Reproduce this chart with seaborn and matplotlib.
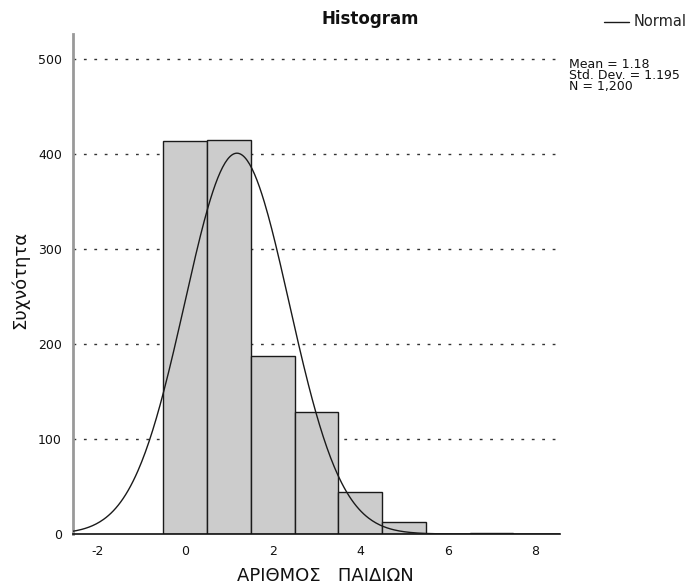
import numpy as np
import pandas as pd
import matplotlib
matplotlib.use("Agg")
import matplotlib.pyplot as plt
import seaborn as sns

# Number of children per respondent and the frequency of each value
children = [0, 1, 2, 3, 4, 5, 6, 7]
counts = [413, 414, 187, 128, 44, 13, 0, 1]
mean_val = 1.18
std_val = 1.195
n_total = 1200

sns.set_theme(style="white")
plt.rcParams["font.family"] = ["DejaVu Sans"]
plt.rcParams["axes.unicode_minus"] = False

df = pd.DataFrame({"children": children, "count": counts})

W, H = 692, 585
fig = plt.figure(figsize=(W / 100, H / 100), dpi=100)
# plot area in pixels: x 73..560, y 34..534
ax = fig.add_axes([73 / W, 1 - 534 / H, (560 - 73) / W, 500 / H])

# dotted reference lines behind the bars
for yv in [100, 200, 300, 400, 500]:
    ax.axhline(yv, xmin=0, xmax=0.99, color="#333333", linestyle=(0, (2, 5.5)),
               linewidth=1.0, zorder=0)

sns.histplot(data=df, x="children", weights="count", binwidth=1,
             binrange=(-0.5, 7.5), ax=ax,
             color="#cccccc", edgecolor="#1a1a1a", linewidth=1.0, alpha=1.0,
             zorder=2)

# fitted normal curve scaled to counts (bin width 1)
xs = np.linspace(-2.6, 8.6, 400)
pdf = np.exp(-0.5 * ((xs - mean_val) / std_val) ** 2) / (std_val * np.sqrt(2 * np.pi))
sns.lineplot(x=xs, y=n_total * 1.0 * pdf, ax=ax, color="#1a1a1a", linewidth=1.0,
             zorder=3)

ax.set_xlim(-2.57, 8.57)
ax.set_ylim(0, 526)
ax.set_xticks([-2, 0, 2, 4, 6, 8])
ax.set_yticks([0, 100, 200, 300, 400, 500])
ax.tick_params(axis="both", labelsize=9, colors="#111111", direction="out",
               length=7, width=1.3, pad=1)
ax.tick_params(axis="x", length=6, pad=2)

for s in ["top", "right"]:
    ax.spines[s].set_visible(False)
ax.spines["left"].set_color("#999999")
ax.spines["left"].set_linewidth(2.0)
ax.spines["bottom"].set_color("#111111")
ax.spines["bottom"].set_linewidth(1.2)

ax.set_xlabel("ΑΡΙΘΜΟΣ   ΠΑΙΔΙΩΝ", fontsize=13, color="#111111", va="center")
ax.xaxis.set_label_coords((325 - 73) / 487, (534 - 576) / 500)
ax.set_ylabel("Συχνότητα", fontsize=13, color="#111111", va="center")
ax.yaxis.set_label_coords((20 - 73) / 487, (534 - 280) / 500)

fig.text(370 / W, 1 - 19 / H, "Histogram", ha="center", va="center",
         fontsize=12, fontweight="bold", color="#111111")

# legend entry for the normal curve
fig.lines.append(plt.Line2D([604 / W, 629 / W], [1 - 22 / H, 1 - 22 / H],
                            transform=fig.transFigure, color="#1a1a1a",
                            linewidth=1.0))
fig.text(634 / W, 1 - 22 / H, "Normal", ha="left", va="center",
         fontsize=10.5, color="#222222")

fig.text(569 / W, 1 - 58 / H,
         f"Mean = {mean_val:.2f}\nStd. Dev. = {std_val:.3f}\nN = {n_total:,}",
         ha="left", va="top", fontsize=9, color="#111111", linespacing=0.82)

fig.savefig("out.png", dpi=100)
